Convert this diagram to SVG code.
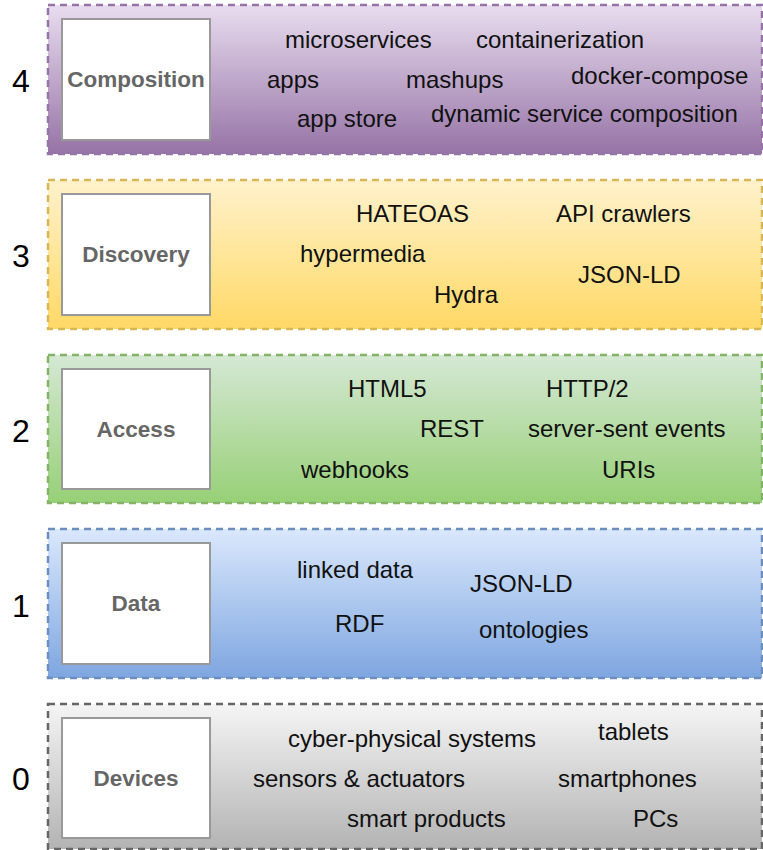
<svg xmlns="http://www.w3.org/2000/svg" width="763" height="850" viewBox="0 0 763 850">
<defs>
<linearGradient id="gPurple" x1="0" y1="0" x2="0" y2="1"><stop offset="0" stop-color="#e8ddef"/><stop offset="1" stop-color="#9673a6"/></linearGradient>
<linearGradient id="gYellow" x1="0" y1="0" x2="0" y2="1"><stop offset="0" stop-color="#fff2cc"/><stop offset="1" stop-color="#ffd966"/></linearGradient>
<linearGradient id="gGreen" x1="0" y1="0" x2="0" y2="1"><stop offset="0" stop-color="#d5e8d4"/><stop offset="1" stop-color="#97d077"/></linearGradient>
<linearGradient id="gBlue" x1="0" y1="0" x2="0" y2="1"><stop offset="0" stop-color="#dae8fc"/><stop offset="1" stop-color="#7ea6e0"/></linearGradient>
<linearGradient id="gGray" x1="0" y1="0" x2="0" y2="1"><stop offset="0" stop-color="#f5f5f5"/><stop offset="1" stop-color="#b3b3b3"/></linearGradient>
</defs>
<style>
.layer{stroke-width:2.5;stroke-dasharray:7 5}
.box{fill:#ffffff;stroke:#999999;stroke-width:2}
.lbl{font-family:"Liberation Sans",Arial,sans-serif;font-weight:bold;font-size:22.5px;fill:#666666;text-anchor:middle}
.num{font-family:"Liberation Sans",Arial,sans-serif;font-size:32px;fill:#000000;text-anchor:middle}
.t{font-family:"Liberation Sans",Arial,sans-serif;font-size:24px;fill:#111111}
</style>
<rect width="763" height="850" fill="#ffffff"/>

<g id="layer4">
<rect class="layer" x="48" y="5" width="714" height="149" fill="url(#gPurple)" stroke="#9673a6"/>
<text class="num" x="21" y="92">4</text>
<g id="composition"><rect class="box" x="62" y="19" width="148" height="121"/><text class="lbl" x="136" y="87">Composition</text></g>
<text class="t" x="285" y="48">microservices</text>
<text class="t" x="476" y="48">containerization</text>
<text class="t" x="267" y="88">apps</text>
<text class="t" x="406" y="88">mashups</text>
<text class="t" x="571" y="84">docker-compose</text>
<text class="t" x="297" y="127">app store</text>
<text class="t" x="431" y="122">dynamic service composition</text>
</g>

<g id="layer3">
<rect class="layer" x="48" y="180" width="714" height="149" fill="url(#gYellow)" stroke="#d6b656"/>
<text class="num" x="21" y="267">3</text>
<g id="discovery"><rect class="box" x="62" y="194" width="148" height="121"/><text class="lbl" x="136" y="262">Discovery</text></g>
<text class="t" x="356" y="222">HATEOAS</text>
<text class="t" x="556" y="222">API crawlers</text>
<text class="t" x="300" y="262">hypermedia</text>
<text class="t" x="578" y="283">JSON-LD</text>
<text class="t" x="434" y="303">Hydra</text>
</g>

<g id="layer2">
<rect class="layer" x="48" y="355" width="714" height="148" fill="url(#gGreen)" stroke="#82b366"/>
<text class="num" x="21" y="442">2</text>
<g id="access"><rect class="box" x="62" y="369" width="148" height="120"/><text class="lbl" x="136" y="437">Access</text></g>
<text class="t" x="348" y="397">HTML5</text>
<text class="t" x="546" y="397">HTTP/2</text>
<text class="t" x="420" y="437">REST</text>
<text class="t" x="528" y="437">server-sent events</text>
<text class="t" x="301" y="478">webhooks</text>
<text class="t" x="602" y="478">URIs</text>
</g>

<g id="layer1">
<rect class="layer" x="48" y="529" width="714" height="149" fill="url(#gBlue)" stroke="#6c8ebf"/>
<text class="num" x="21" y="617">1</text>
<g id="data"><rect class="box" x="62" y="543" width="148" height="121"/><text class="lbl" x="136" y="611">Data</text></g>
<text class="t" x="297" y="578">linked data</text>
<text class="t" x="470" y="592">JSON-LD</text>
<text class="t" x="335" y="632">RDF</text>
<text class="t" x="479" y="638">ontologies</text>
</g>

<g id="layer0">
<rect class="layer" x="48" y="704" width="714" height="145" fill="url(#gGray)" stroke="#666666"/>
<text class="num" x="21" y="790">0</text>
<g id="devices"><rect class="box" x="62" y="718" width="148" height="120"/><text class="lbl" x="136" y="786">Devices</text></g>
<text class="t" x="288" y="747">cyber-physical systems</text>
<text class="t" x="598" y="740">tablets</text>
<text class="t" x="253" y="787">sensors &amp; actuators</text>
<text class="t" x="558" y="787">smartphones</text>
<text class="t" x="347" y="827">smart products</text>
<text class="t" x="633" y="827">PCs</text>
</g>

<g id="connectors"></g>
</svg>
